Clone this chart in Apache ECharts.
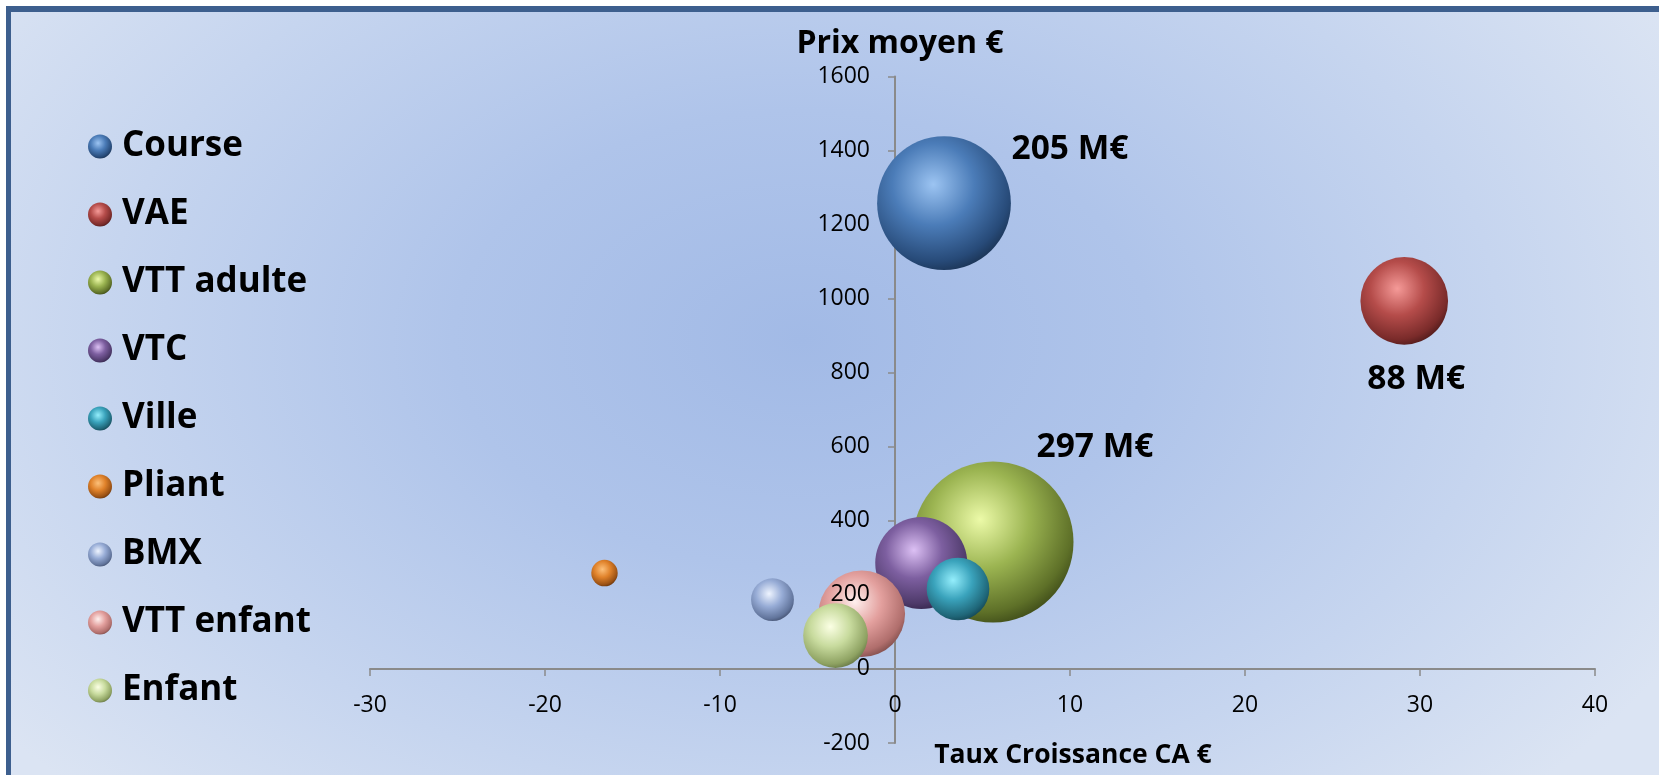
<!DOCTYPE html>
<html>
<head>
<meta charset="utf-8">
<script src="https://cdn.jsdelivr.net/npm/echarts@6/dist/echarts.min.js"></script>
<style>
  html, body { margin: 0; padding: 0; background: #ffffff; overflow: hidden; }
  #frame {
    position: absolute; left: 6px; top: 6px; width: 1720px; height: 820px;
    border-left: 5px solid #3d5f8e; border-top: 6px solid #3d5f8e;
    background: radial-gradient(ellipse 58% 80% at 46% 40%, #a2bae6 0%, #afc4ea 35%, #c6d5ef 70%, #dbe4f3 100%);
  }
  #chart { position: absolute; left: 0; top: 0; width: 1659px; height: 775px; }
</style>
</head>
<body>
<div id="frame"></div>
<div id="chart"></div>
<script>
// ---- data ----
const categories = ['Course', 'VAE', 'VTT adulte', 'VTC', 'Ville', 'Pliant', 'BMX', 'VTT enfant', 'Enfant'];
const growth = [2.8, 29.1, 5.6, 1.5, 3.6, -16.6, -7.0, -1.9, -3.4];   // Taux Croissance CA
const price = [1258, 994, 343, 286, 216, 259, 187, 149, 90];        // Prix moyen €
const ca = [205, 88, 297, 97, 45, 8, 21, 86, 48];                   // CA (M€), bubble size
const labelled = ['Course', 'VAE', 'VTT adulte'];
const xTicks = { min: -30, max: 40, step: 10 };
const yTicks = { min: -200, max: 1600, step: 200 };

// ---- layout / styles ----
const GRID = { left: 370, right: 64, top: 76.5, bottom: 32 };
const W = 1659, H = 775;
const gridW = W - GRID.left - GRID.right;
const gridH = H - GRID.top - GRID.bottom;
// move axes so that they cross at the origin
const xAxisOffset = -((0 - yTicks.min) / (yTicks.max - yTicks.min)) * gridH;
const yAxisOffset = -((0 - xTicks.min) / (xTicks.max - xTicks.min)) * gridW;

const palette = {
  'Course':     ['#9cc4f2', '#4b7cb8', '#274a78', '#1a3252'],
  'VAE':        ['#f59a98', '#b54c4a', '#7a2b2a', '#4e1a1a'],
  'VTT adulte': ['#ecfaa8', '#9bb451', '#5e7028', '#3d4a18'],
  'VTC':        ['#dcc0f4', '#7d5fa0', '#4e3a6a', '#33254a'],
  'Ville':      ['#94eefc', '#3aa3bc', '#1f6678', '#134452'],
  'Pliant':     ['#fcc07a', '#e0822a', '#9a5114', '#66340c'],
  'BMX':        ['#eef4ff', '#97acd6', '#62759c', '#43506e'],
  'VTT enfant': ['#fff0ee', '#e3a09e', '#b06e6c', '#7e4c4a'],
  'Enfant':     ['#fbffe4', '#c8db9e', '#8ea262', '#647444']
};
const labelShift = {
  'Course': [126, -54],
  'VAE': [12, 79],
  'VTT adulte': [102, -94]
};
const maxSize = Math.max(...ca);
const maxDiameter = 161;
const FONT = 'Open Sans';

function ball(c) {
  return {
    type: 'radial', x: 0.42, y: 0.36, r: 0.68,
    colorStops: [
      { offset: 0, color: c[0] },
      { offset: 0.45, color: c[1] },
      { offset: 0.85, color: c[2] },
      { offset: 1, color: c[3] }
    ]
  };
}

const series = categories.map((name, i) => {
  const sh = labelShift[name] || [0, 0];
  return {
    name: name,
    type: 'scatter',
    xAxisIndex: 0,
    yAxisIndex: 0,
    data: [[growth[i], price[i], ca[i]]],
    symbol: 'circle',
    symbolSize: v => maxDiameter * Math.sqrt(v[2] / maxSize),
    itemStyle: { color: ball(palette[name]), opacity: 1 },
    emphasis: { disabled: true },
    label: {
      show: labelled.includes(name),
      position: 'inside',
      formatter: p => p.value[2] + ' M€',
      fontFamily: FONT, fontWeight: 'bold', fontSize: 33.5, color: '#000'
    },
    labelLayout: { dx: sh[0], dy: sh[1], hideOverlap: false },
    z: 2
  };
});

const axisGray = '#8a8a8a';
const chart = echarts.init(document.getElementById('chart'), null, { renderer: 'canvas' });
chart.setOption({
  backgroundColor: 'transparent',
  animation: false,
  textStyle: { fontFamily: FONT },
  grid: { left: GRID.left, right: GRID.right, top: GRID.top, bottom: GRID.bottom, containLabel: false, outerBoundsMode: 'none' },
  legend: {
    orient: 'vertical',
    left: 83, top: 124, height: 645,
    itemWidth: 24, itemHeight: 24, itemGap: 33,
    icon: 'circle',
    data: categories,
    selectedMode: false,
    textStyle: { fontFamily: FONT, fontWeight: 'bold', fontSize: 35, color: '#000', padding: [0, 0, 0, 5] }
  },
  xAxis: {
    type: 'value',
    min: xTicks.min, max: xTicks.max, interval: xTicks.step,
    position: 'bottom',
    offset: xAxisOffset,
    axisLine: { show: true, onZero: false, lineStyle: { color: axisGray, width: 2 } },
    axisTick: { show: true, length: 7, lineStyle: { color: axisGray, width: 1.5 } },
    axisLabel: { margin: 25, fontSize: 23, color: '#000', fontFamily: FONT, formatter: v => String(v) },
    splitLine: { show: false }
  },
  yAxis: [
    {
      type: 'value',
      min: yTicks.min, max: yTicks.max, interval: yTicks.step,
      position: 'left',
      offset: yAxisOffset,
      axisLine: { show: true, onZero: false, lineStyle: { color: axisGray, width: 2 } },
      axisTick: { show: true, length: 7, lineStyle: { color: axisGray, width: 1.5 } },
      axisLabel: { show: false },
      splitLine: { show: false },
      z: 0
    },
    {
      type: 'value',
      min: yTicks.min, max: yTicks.max, interval: yTicks.step,
      position: 'left',
      offset: yAxisOffset,
      axisLine: { show: false, onZero: false },
      axisTick: { show: false },
      axisLabel: { show: true, margin: 25, fontSize: 23, color: '#000', fontFamily: FONT, formatter: v => String(v) },
      splitLine: { show: false },
      z: 10
    }
  ],
  graphic: [
    { type: 'text', x: 900, y: 44, z: 20,
      style: { text: 'Prix moyen €', fontFamily: FONT, fontWeight: 'bold', fontSize: 32, fill: '#000', textAlign: 'center', textVerticalAlign: 'middle' } },
    { type: 'text', x: 1073, y: 755, z: 20,
      style: { text: 'Taux Croissance CA €', fontFamily: FONT, fontWeight: 'bold', fontSize: 26.5, fill: '#000', textAlign: 'center', textVerticalAlign: 'middle' } }
  ],
  series: series
});
</script>
</body>
</html>
